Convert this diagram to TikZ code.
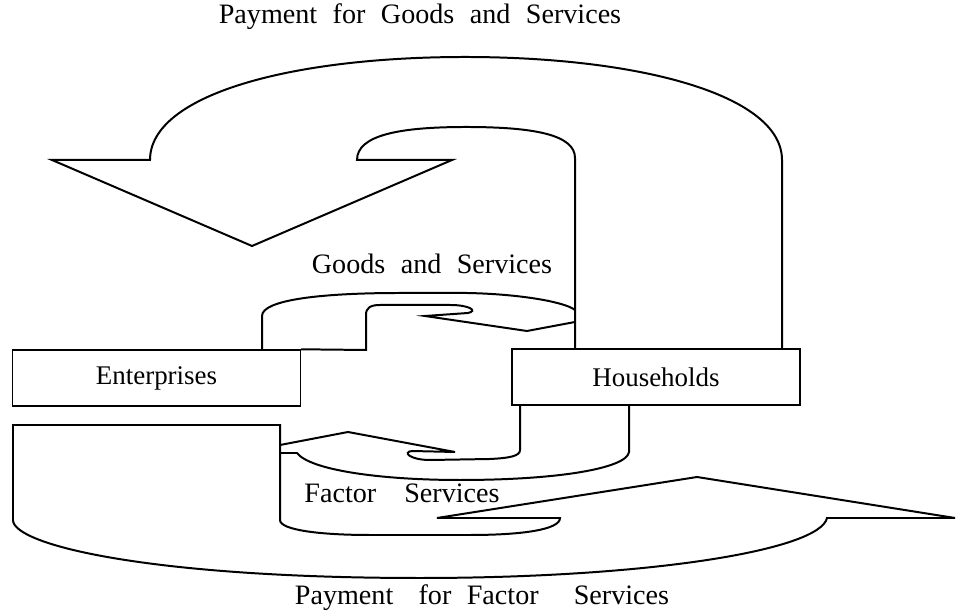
\documentclass[tikz,border=0pt]{standalone}
\usepackage{fontspec}
\setmainfont{Liberation Serif}
\usetikzlibrary{positioning}

\newcommand{\wsp}[1][0.55em]{\hspace{#1}}

\tikzset{
  flow/.style={draw=black,line width=0.85pt,line join=miter},
  sector/.style={draw=black,line width=0.6pt,minimum width=4.32cm,minimum height=0.84cm,inner sep=0pt,font=\fontsize{11.5}{13}\selectfont},
  lbl/.style={font=\fontsize{12}{14}\selectfont,inner sep=0pt}
}

\begin{document}
\begin{tikzpicture}[x=0.015cm,y=-0.015cm]
\useasboundingbox (0,0) rectangle (966,615);

% sectors
\node[sector] (ent) at (156.5,378) {Enterprises};
\node[sector] (hh) at (656,377) {Households};

% payment for goods and services
\draw[flow] (782,349) -- (782,160) .. controls (782,95) and (640,57) .. (465,57)
  .. controls (290,57) and (150,95) .. (150,160) -- (52,160) -- (252,246) -- (452,160) -- (357,160)
  .. controls (357,135) and (400,127) .. (466,127) .. controls (535,127) and (575,135) .. (575,158) -- (575,349);

% goods and services
\draw[flow] (262,350) -- (262,316) .. controls (262,300) and (320,293) .. (400,293) -- (467,293)
  .. controls (520,294) and (565,302) .. (575,310);
\draw[flow] (575,322) -- (527,331) -- (425,316) -- (468,313) .. controls (478,311) and (470,305) .. (450,305)
  -- (380,305) .. controls (370,305) and (366,308) .. (366,315) -- (366,350) -- (ent.north east);

% factor services
\draw[flow] (629,405) -- (629,452) .. controls (627,468) and (560,480) .. (460,480)
  .. controls (380,480) and (310,470) .. (297,453) -- (280,453);
\draw[flow] (280,445) -- (348,432) -- (455,452) -- (412,451) .. controls (402,452) and (410,460) .. (430,460)
  -- (490,459) .. controls (510,458) and (520,456) .. (520,450) -- (520,405);

% payment for factor services
\draw[flow] (280,425) -- (13,425) -- (13,520) .. controls (13,545) and (150,578) .. (420,578)
  .. controls (650,578) and (820,550) .. (827,518) -- (955,518) -- (697,477) -- (437,518) -- (560,518)
  .. controls (560,530) and (520,535) .. (470,535) -- (370,535) .. controls (320,535) and (280,530) .. (280,520) -- cycle;

% labels
\node[lbl] (paygs) at (420,17) {Payment\wsp for\wsp Goods\wsp and\wsp Services};
\node[lbl] (gs) at (432,264) {Goods\wsp and\wsp Services};
\node[lbl] (fs) at (402,493) {Factor\wsp[1em]Services};
\node[lbl] (payfs) at (482,598) {Payment\wsp[0.9em]for\wsp[0.55em]Factor\wsp[1.25em]Services};

\end{tikzpicture}
\end{document}
